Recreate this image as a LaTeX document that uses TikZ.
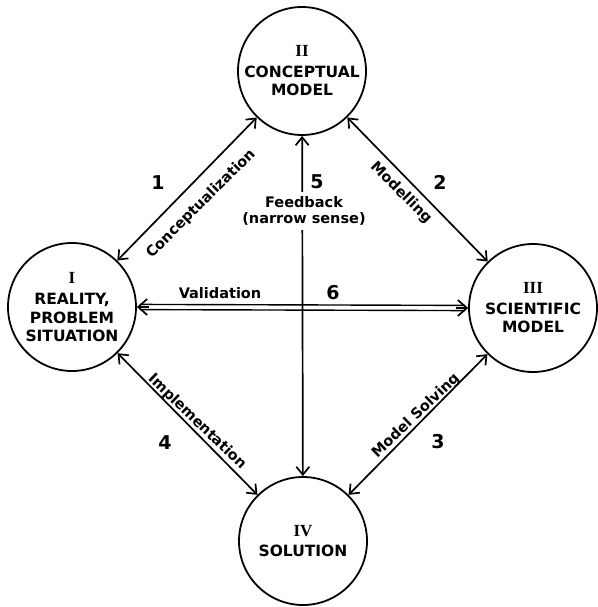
\documentclass[tikz,border=0pt]{standalone}
\usepackage{fontspec}
\setmainfont{DejaVu Sans}
\newfontfamily\romfont{Liberation Serif}
\usetikzlibrary{arrows.meta,calc}
\begin{document}
\begin{tikzpicture}[x=1pt,y=-1pt,
  stage/.style={circle,draw,line width=1.8pt,minimum size=128pt,inner sep=0pt,align=center,
    font=\bfseries\fontsize{15.5}{18.5}\selectfont},
  link/.style={line width=1.7pt,{Straight Barb[length=8pt,width=13pt]}-{Straight Barb[length=8pt,width=13pt]}},
  lab/.style={font=\bfseries\fontsize{14.5}{16}\selectfont,inner sep=0pt},
  num/.style={font=\bfseries\fontsize{19}{19}\selectfont,inner sep=0pt},
]
\useasboundingbox (0,0) rectangle (597,607);
\newcommand\rom[1]{{\romfont\bfseries\fontsize{17}{17}\selectfont #1}}
\node[stage] (I) at (72,307) {\rom{I}\\[3pt]REALITY,\\PROBLEM\\SITUATION};
\node[stage] (II) at (302,71) {\rom{II}\\[2pt]CONCEPTUAL\\MODEL};
\node[stage] (III) at (533,308) {\rom{III}\\[2pt]SCIENTIFIC\\MODEL};
\node[stage] (IV) at (303,541) {\rom{IV}\\[2pt]SOLUTION};

\draw[link] (I) -- (II);
\draw[link] (II) -- (III);
\draw[link] (IV) -- (III);
\draw[link] (I) -- (IV);
\draw[link] (II) -- (IV);

% double validation line
\draw[line width=1.4pt,shorten <=3pt,shorten >=3pt] ([yshift=2.6pt]I.east) -- ([yshift=2.6pt]III.west);
\draw[line width=1.4pt,shorten <=3pt,shorten >=3pt] ([yshift=-2.6pt]I.east) -- ([yshift=-2.6pt]III.west);
\draw[line width=1.7pt,-{Straight Barb[length=9pt,width=16pt]}] ($(I.east)+(12,0)$) -- (I.east);
\draw[line width=1.7pt,-{Straight Barb[length=9pt,width=16pt]}] ($(III.west)+(-12,0)$) -- (III.west);

\node[lab,rotate=45] (cz) at (201,204) {Conceptualization};
\node[lab,rotate=-45] (md) at (401,193) {Modelling};
\node[lab,rotate=-44] (im) at (197,422) {Implementation};
\node[lab,rotate=44] (ms) at (416,416) {Model Solving};
\node[lab] (va) at (220,293) {Validation};
\node[lab,fill=white,align=center,inner xsep=2pt,inner ysep=5pt] (fb) at (304,211) {Feedback\\(narrow sense)};

\node[num] (n1) at (158,183) {1};
\node[num] (n2) at (440,182) {2};
\node[num] (n3) at (438,442) {3};
\node[num] (n4) at (165,443) {4};
\node[num] (n5) at (317,182) {5};
\node[num] (n6) at (333,293) {6};
\end{tikzpicture}
\end{document}
